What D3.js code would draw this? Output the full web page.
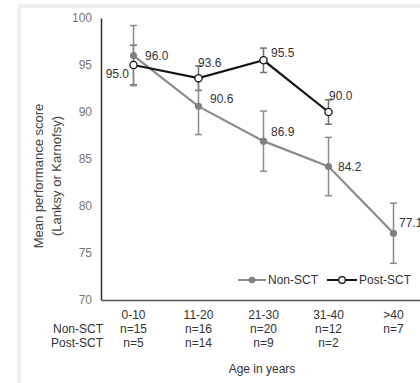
<!DOCTYPE html>
<html><head><meta charset="utf-8">
<script src="https://cdn.jsdelivr.net/npm/d3@7"></script>
<style>body{margin:0;background:#fff}svg{display:block}text{font-family:"Liberation Sans",Arial,sans-serif}</style>
</head><body>
<script>
const categories = ["0-10","11-20","21-30","31-40",">40"];
const nonSCT = [96.0, 90.6, 86.9, 84.2, 77.1];
const nonSCTErr = [3.2, 3.0, 3.2, 3.1, 3.2];
const postSCT = [95.0, 93.6, 95.5, 90.0];
const postSCTErr = [2.1, 1.3, 1.3, 1.3];
const nonSCTn = ["n=15","n=16","n=20","n=12","n=7"];
const postSCTn = ["n=5","n=14","n=9","n=2"];
const yTicks = [70,75,80,85,90,95,100];
const seriesNames = ["Non-SCT","Post-SCT"];

const W = 420, H = 383;
const svg = d3.select("body").append("svg").attr("width", W).attr("height", H);

// panel frame
svg.append("rect").attr("x",19).attr("y",6).attr("width",440).attr("height",420)
  .attr("fill","#fff").attr("stroke","#efefef").attr("stroke-width",4);

const x = d3.scaleBand().domain(categories).range([101, 426]);
const y = d3.scaleLinear().domain([70,100]).range([300,18]);
const cx = c => x(c) + x.bandwidth()/2;

// y axis
const ya = svg.append("g").attr("transform","translate(101,0)")
  .call(d3.axisLeft(y).tickValues(yTicks).tickSize(0).tickPadding(9).tickFormat(d3.format("d")));
ya.select(".domain").attr("stroke","#333").attr("stroke-width",1.5);
ya.selectAll("text").attr("fill","#777").attr("font-size",12).style("font-family","Liberation Sans, Arial, sans-serif");

// x axis
const xa = svg.append("g").attr("transform","translate(0,300)")
  .call(d3.axisBottom(x).tickSize(0).tickFormat(""));
xa.select(".domain").attr("stroke","#555").attr("stroke-width",1.5);

const txt = (xx, yy, s, opt={}) => svg.append("text").attr("x",xx).attr("y",yy)
  .attr("font-size",opt.size||12).attr("fill",opt.fill||"#333")
  .attr("text-anchor",opt.anchor||"middle").attr("dy","0.35em").text(s);

// category labels
categories.forEach((c,i)=>{
  txt(cx(c), 315, c);
  txt(cx(c), 329, nonSCTn[i]);
  if (i < postSCTn.length) txt(cx(c), 343, postSCTn[i]);
});
txt(103, 329, "Non-SCT", {anchor:"end"});
txt(103, 343, "Post-SCT", {anchor:"end"});
txt(262, 369, "Age in years");

// y title
const yt = svg.append("text").attr("transform","translate(43,176) rotate(-90)")
  .attr("text-anchor","middle").attr("font-size",13).attr("fill","#444");
yt.append("tspan").attr("x",0).attr("y",0).text("Mean performance score");
yt.append("tspan").attr("x",0).attr("y",18).text("(Lanksy or Karnofsy)");

const nonPts = nonSCT.map((v,i)=>({c:categories[i], v, e:nonSCTErr[i]}));
const postPts = postSCT.map((v,i)=>({c:categories[i], v, e:postSCTErr[i]}));

function errBars(pts, color){
  const g = svg.append("g").attr("stroke",color).attr("stroke-width",1.5);
  pts.forEach(p=>{
    const X = cx(p.c);
    g.append("line").attr("x1",X).attr("x2",X).attr("y1",y(p.v+p.e)).attr("y2",y(p.v-p.e));
    [p.v+p.e, p.v-p.e].forEach(b=>g.append("line").attr("x1",X-3.5).attr("x2",X+3.5).attr("y1",y(b)).attr("y2",y(b)));
  });
}
errBars(postPts, "#6f6f6f");
errBars(nonPts, "#8a8a8a");

const line = d3.line().x(d=>cx(d.c)).y(d=>y(d.v));
svg.append("path").datum(nonPts).attr("d",line).attr("fill","none").attr("stroke","#8c8c8c").attr("stroke-width",2.2);
svg.append("path").datum(postPts).attr("d",line).attr("fill","none").attr("stroke","#151515").attr("stroke-width",2.2);

svg.selectAll(".mn").data(nonPts).enter().append("circle")
  .attr("cx",d=>cx(d.c)).attr("cy",d=>y(d.v)).attr("r",3.6).attr("fill","#808080");
svg.selectAll(".mp").data(postPts).enter().append("circle")
  .attr("cx",d=>cx(d.c)).attr("cy",d=>y(d.v)).attr("r",3.6).attr("fill","#fff").attr("stroke","#151515").attr("stroke-width",1.3);

// data labels
const nonOff = [[11.5,0,"start"],[11.5,-8,"start"],[7.5,-9,"start"],[9.5,0,"start"],[5.5,-10,"start"]];
const postOff = [[-4.5,9,"end"],[-0.5,-15,"start"],[7.5,-8,"start"],[0.5,-16,"start"]];
nonPts.forEach((p,i)=>txt(cx(p.c)+nonOff[i][0], y(p.v)+nonOff[i][1], p.v.toFixed(1), {anchor:nonOff[i][2]}));
postPts.forEach((p,i)=>txt(cx(p.c)+postOff[i][0], y(p.v)+postOff[i][1], p.v.toFixed(1), {anchor:postOff[i][2]}));

// legend
const lg = svg.append("g");
lg.append("line").attr("x1",238).attr("x2",266).attr("y1",280).attr("y2",280).attr("stroke","#8c8c8c").attr("stroke-width",2);
lg.append("circle").attr("cx",252).attr("cy",280).attr("r",3.3).attr("fill","#808080");
txt(268, 280, seriesNames[0], {anchor:"start"});
lg.append("line").attr("x1",327).attr("x2",357).attr("y1",280).attr("y2",280).attr("stroke","#151515").attr("stroke-width",2);
lg.append("circle").attr("cx",342).attr("cy",280).attr("r",3.3).attr("fill","#fff").attr("stroke","#151515").attr("stroke-width",1.3);
txt(359, 280, seriesNames[1], {anchor:"start"});
</script>
</body></html>
